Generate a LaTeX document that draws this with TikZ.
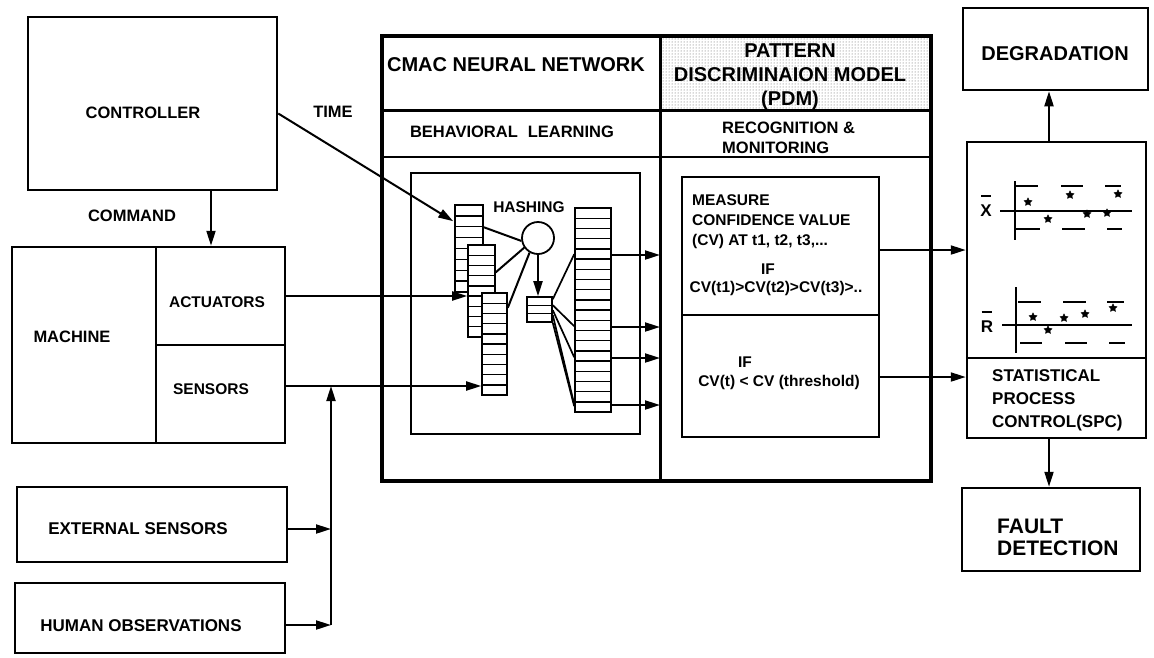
\documentclass[tikz,border=0pt]{standalone}
\usepackage{fontspec}
\setmainfont{Liberation Sans}
\usetikzlibrary{arrows.meta,fit,patterns,calc,shapes.geometric}
\newcommand\cellstack[6]{%
  \node[stackbox, fit={(#2,#3) (#4,#5)}] (#1) {};
  \pgfmathtruncatemacro\cslast{#6-1}%
  \foreach \k in {1,...,\cslast}{%
    \pgfmathsetmacro\csyy{#3+(#5-#3)*\k/#6}%
    \draw[rowline] (#2,\csyy) -- (#4,\csyy);}%
}
\begin{document}
\begin{tikzpicture}[x=1pt,y=-1pt,
  bx/.style={draw, line width=2.5pt, inner sep=0pt},
  heavy/.style={draw, line width=3.4pt, inner sep=0pt},
  inbox/.style={draw, line width=1.8pt, inner sep=0pt},
  stackbox/.style={draw, fill=white, line width=1.6pt, inner sep=0pt},
  rowline/.style={line width=1.4pt},
  conn/.style={line width=2pt},
  arr/.style={conn, -{Triangle[length=15pt,width=9pt]}},
  t15/.style={font=\bfseries\fontsize{15.5}{20}\selectfont, inner sep=0pt, align=center},
  t16/.style={font=\bfseries\fontsize{16.5}{20}\selectfont, inner sep=0pt, align=center},
  t17/.style={font=\bfseries\fontsize{17}{23}\selectfont, inner sep=0pt, align=left},
  t20/.style={font=\bfseries\fontsize{20}{24}\selectfont, inner sep=0pt, align=center},
  starpt/.style={star, star points=5, star point ratio=2, fill, draw, line width=0.6pt, inner sep=0pt, minimum size=8pt},
  chartline/.style={line width=2pt}
]
\useasboundingbox (0,0) rectangle (1154,657);
\fill[white] (0,0) rectangle (1154,657);

% helper coordinates
\coordinate (cmdx) at (211,0);
\coordinate (divx) at (660,0);
\coordinate (r1) at (0,110);
\coordinate (r2) at (0,157);
\coordinate (r3) at (0,315);
\coordinate (r4) at (0,358);
\coordinate (sj) at (331,386);
\coordinate (ej) at (331,529);
\coordinate (hj) at (331,625);
\coordinate (o1) at (0,255);
\coordinate (o2) at (0,327);
\coordinate (o3) at (0,358);
\coordinate (o4) at (0,405);
\coordinate (p1) at (0,250);
\coordinate (p2) at (0,377);

% ---------- left side ----------
\node[bx, fit={(28,17) (277,190)}] (ctrl) {};
\node[t16] (ctrllbl) at (143,113) {CONTROLLER};
\node[t16] (timelbl) at (333,112) {TIME};
\node[t16] (cmdlbl) at (132,216) {COMMAND};

\node[bx, fit={(12,247) (285,443)}] (mach) {};
\node[bx, fit={(156,247) (285,345)}] (act) {};
\node[bx, fit={(156,345) (285,443)}] (sens) {};
\node[t16] (machlbl) at (72,337) {MACHINE};
\node[t15] (actlbl) at (217,302) {ACTUATORS};
\node[t15] (senslbl) at (211,389) {SENSORS};

\node[bx, fit={(17,487) (287,562)}] (ext) {};
\node[t17, align=center] (extlbl) at (138,529) {EXTERNAL SENSORS};
\node[bx, fit={(15,583) (285,653)}] (hum) {};
\node[t17, align=center] (humlbl) at (141,626) {HUMAN OBSERVATIONS};

% ---------- CMAC / PDM frame ----------
\fill[pattern=dots, pattern color=black!65] (660,36) rectangle (931,110);
\node[heavy, fit={(382,36) (931,481)}] (cmac) {};
\draw[line width=3pt] (cmac.north -| divx) -- (cmac.south -| divx);
\draw[line width=3pt] (cmac.west |- r1) -- (cmac.east |- r1);
\draw[line width=2.5pt] (cmac.west |- r2) -- (cmac.east |- r2);

\node[t20] (cmaclbl) at (516,65) {CMAC NEURAL NETWORK};
\node[t20] (pdmlbl) at (790,77) {PATTERN\\DISCRIMINAION MODEL\\(PDM)};
\node[t16] (bllbl) at (512,132) {BEHAVIORAL\hspace{0.6em}LEARNING};
\node[t16, align=left, anchor=west] (rmlbl) at (722,138) {RECOGNITION \&\\MONITORING};

% ---------- network ----------
\node[inbox, fit={(411,173) (640,434)}] (net) {};
\node[t15] (hashlbl) at (529,207) {HASHING};
\cellstack{stA}{455}{205}{483}{292}{8}
\cellstack{stB}{468}{245}{495}{337}{9}
\cellstack{stC}{482}{293}{507}{395}{10}
\cellstack{stD}{527}{297}{552}{322}{3}
\cellstack{stE}{575}{208}{611}{412}{20}
\node[inbox, circle, minimum size=32pt, fill=white] (hash) at (538,238) {};

\draw[conn] ($(stA.north east)!0.26!(stA.south east)$) -- (hash.190);
\draw[conn] ($(stB.north east)!0.30!(stB.south east)$) -- (hash.215);
\draw[conn] ($(stC.north east)!0.15!(stC.south east)$) -- (hash.240);
\draw[arr] (hash.south) -- (hash.south |- stD.north);

\draw[conn, line width=1.7pt] ($(stD.north east)+(0,3)$) -- ($(stE.north west)+(0,47)$);
\draw[conn, line width=1.7pt] ($(stD.north east)+(0,9)$) -- ($(stE.north west)+(0,119)$);
\draw[conn, line width=1.7pt] ($(stD.north east)+(0,14)$) -- ($(stE.north west)+(0,150)$);
\draw[conn, line width=1.7pt] ($(stD.north east)+(0,19)$) -- ($(stE.north west)+(0,197)$);
\draw[conn, line width=1.7pt] (stD.south east) -- ($(stE.north west)+(0,199)$);

\draw[arr] (stE.east |- o1) -- (divx |- o1);
\draw[arr] (stE.east |- o2) -- (divx |- o2);
\draw[arr] (stE.east |- o3) -- (divx |- o3);
\draw[arr] (stE.east |- o4) -- (divx |- o4);

% ---------- inputs ----------
\draw[arr] ($(ctrl.east)+(0,10)$) -- ($(stA.north west)+(-1,17)$);
\draw[arr] (ctrl.south -| cmdx) -- (mach.north -| cmdx);
\draw[arr] (act.east) -- (act.east -| stB.west);
\draw[arr] (sens.east |- sj) -- (stC.west |- sj);
\draw[arr] (hj) -- (sj);
\draw[arr] (ext.east |- ej) -- (ej);
\draw[arr] (hum.east |- hj) -- (hj);

% ---------- PDM inner ----------
\node[inbox, fit={(682,177) (879,437)}] (pdmbox) {};
\draw[line width=1.8pt] (pdmbox.west |- r3) -- (pdmbox.east |- r3);
\node[t15, align=left, anchor=west] (measlbl) at (692,222) {MEASURE\\CONFIDENCE VALUE\\(CV) AT t1, t2, t3,...};
\node[t15] (if1) at (768,269) {IF};
\node[t15] (cond1) at (776,288) {CV(t1)>CV(t2)>CV(t3)>..};
\node[t15] (if2) at (745,362) {IF};
\node[t15] (cond2) at (779,382) {CV(t) < CV (threshold)};

% ---------- right side ----------
\node[bx, fit={(967,142) (1146,438)}] (spc) {};
\draw[line width=2.5pt] (spc.west |- r4) -- (spc.east |- r4);
\node[bx, fit={(963,8) (1148,90)}] (degr) {};
\node[t20] (degrlbl) at (1055,54) {DEGRADATION};
\node[bx, fit={(962,488) (1140,571)}] (fault) {};
\node[font=\bfseries\fontsize{21}{22}\selectfont, inner sep=0pt, align=left, anchor=west] (faultlbl) at (997,537) {FAULT\\DETECTION};
\node[t17, anchor=west] (spclbl) at (992,400) {STATISTICAL\\PROCESS\\CONTROL(SPC)};

\draw[arr] (pdmbox.east |- p1) -- (spc.west |- p1);
\draw[arr] (pdmbox.east |- p2) -- (spc.west |- p2);
\draw[arr] ($(spc.north)+(-7.5,0)$) -- ($(degr.south)+(-6.5,0)$);
\draw[arr] ($(spc.south)+(-7.5,0)$) -- ($(fault.north)+(-2,0)$);

% X-bar chart
\node[t17, align=center] (xl) at (986,211) {X};
\draw[line width=1.8pt] ($(xl.north west)+(1,-9)$) -- ($(xl.north east)+(-1,-9)$);
\draw[chartline] (1015,181) -- (1015,240);
\draw[chartline] (1000,211) -- (1132,211);
\foreach \a/\b in {1015/1038,1061/1083,1105/1121} \draw[chartline] (\a,186) -- (\b,186);
\foreach \a/\b in {1015/1040,1062/1085,1107/1122} \draw[chartline] (\a,229) -- (\b,229);
\foreach \i/\px/\py in {1/1028/202,2/1048/219,3/1070/195,4/1087/214,5/1107/213,6/1118/194}
  \node[starpt] (sx\i) at (\px,\py) {};

% R-bar chart
\node[t17, align=center] (rl) at (987,327) {R};
\draw[line width=1.8pt] ($(rl.north west)+(1,-9)$) -- ($(rl.north east)+(-1,-9)$);
\draw[chartline] (1016,287) -- (1016,353);
\draw[chartline] (1002,325) -- (1132,325);
\foreach \a/\b in {1018/1041,1063/1086,1107/1124} \draw[chartline] (\a,302) -- (\b,302);
\foreach \a/\b in {1020/1042,1065/1087,1109/1125} \draw[chartline] (\a,343) -- (\b,343);
\foreach \i/\px/\py in {1/1033/317,2/1048/330,3/1064/318,4/1085/314,5/1113/308}
  \node[starpt] (sr\i) at (\px,\py) {};
\end{tikzpicture}
\end{document}
